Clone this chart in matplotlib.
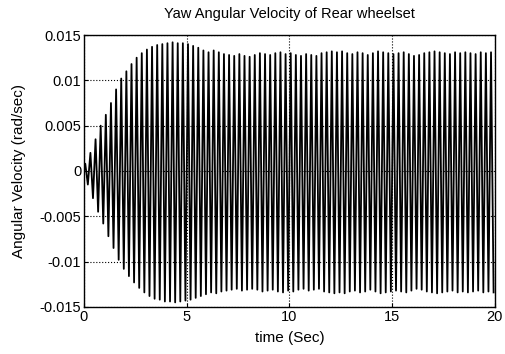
import numpy as np
import matplotlib
matplotlib.use("Agg")
import matplotlib.pyplot as plt

plt.rcParams['font.family'] = ['Liberation Sans', 'DejaVu Sans']

# Oscillation period (s) and per-cycle peak values
period = 0.25
upper_peaks = [
    0.0008, 0.0020, 0.0035, 0.0050,
    0.0062, 0.0075, 0.0090, 0.0102,
    0.0110, 0.0118, 0.0125, 0.0130,
    0.0134, 0.0137, 0.0139, 0.0140,
    0.0141, 0.0142, 0.0141, 0.0141,
    0.0140, 0.0138, 0.0136, 0.0133,
    0.0131, 0.0133, 0.0131, 0.0129,
    0.0128, 0.0127, 0.0129, 0.0127,
    0.0126, 0.0128, 0.0130, 0.0129,
    0.0128, 0.0130, 0.0131, 0.0129,
    0.0130, 0.0128, 0.0127, 0.0129,
    0.0128, 0.0127, 0.0130, 0.0131,
    0.0132, 0.0131, 0.0132, 0.0130,
    0.0129, 0.0131, 0.0130, 0.0128,
    0.0130, 0.0132, 0.0131, 0.0130,
    0.0129, 0.0130, 0.0131, 0.0129,
    0.0127, 0.0128, 0.0130, 0.0131,
    0.0132, 0.0131, 0.0130, 0.0129,
    0.0131, 0.0130, 0.0131, 0.0130,
    0.0129, 0.0131, 0.0130, 0.0131,
]
lower_peaks = [
    -0.0015, -0.0030, -0.0045, -0.0058,
    -0.0072, -0.0085, -0.0098, -0.0108,
    -0.0116, -0.0123, -0.0129, -0.0134,
    -0.0138, -0.0141, -0.0142, -0.0144,
    -0.0144, -0.0145, -0.0144, -0.0143,
    -0.0142, -0.0140, -0.0138, -0.0136,
    -0.0134, -0.0135, -0.0133, -0.0132,
    -0.0131, -0.0130, -0.0132, -0.0131,
    -0.0130, -0.0131, -0.0133, -0.0132,
    -0.0131, -0.0133, -0.0134, -0.0132,
    -0.0133, -0.0131, -0.0130, -0.0132,
    -0.0131, -0.0130, -0.0133, -0.0134,
    -0.0135, -0.0134, -0.0135, -0.0133,
    -0.0132, -0.0134, -0.0133, -0.0131,
    -0.0133, -0.0135, -0.0134, -0.0133,
    -0.0132, -0.0133, -0.0134, -0.0132,
    -0.0130, -0.0131, -0.0133, -0.0134,
    -0.0135, -0.0134, -0.0133, -0.0132,
    -0.0134, -0.0133, -0.0134, -0.0133,
    -0.0132, -0.0134, -0.0133, -0.0134,
]
xticks = [0, 5, 10, 15, 20]
yticks = [0.015, 0.01, 0.005, 0, -0.005, -0.01, -0.015]
ytick_labels = ["0.015", "0.01", "0.005", "0", "-0.005", "-0.01", "-0.015"]

n = len(upper_peaks)
t_up = (np.arange(n) + 0.25) * period
t_lo = (np.arange(n) + 0.75) * period
t = np.concatenate([[0.0], np.column_stack([t_up, t_lo]).ravel()])
y = np.concatenate([[0.0], np.column_stack([upper_peaks, lower_peaks]).ravel()])

fig = plt.figure(figsize=(5.06, 3.54), dpi=100)
ax = fig.add_axes([0.166, 0.133, 0.812, 0.768])
ax.plot(t, y, color='black', linewidth=1.3)

ax.set_xlim(0, 20)
ax.set_ylim(-0.015, 0.015)
ax.set_xticks(xticks)
ax.set_yticks(yticks)
ax.set_yticklabels(ytick_labels)
ax.tick_params(direction='in', labelsize=10.5, length=3, pad=2)
ax.grid(True, color='black', linestyle=':', linewidth=0.8)
for s in ax.spines.values():
    s.set_linewidth(1.0)

ax.set_title("Yaw Angular Velocity of Rear wheelset", fontsize=10.5, pad=12)
ax.set_xlabel("time (Sec)", fontsize=11, labelpad=5)
ax.set_ylabel("Angular Velocity (rad/sec)", fontsize=11, labelpad=10)

fig.savefig("out.png", dpi=100)
